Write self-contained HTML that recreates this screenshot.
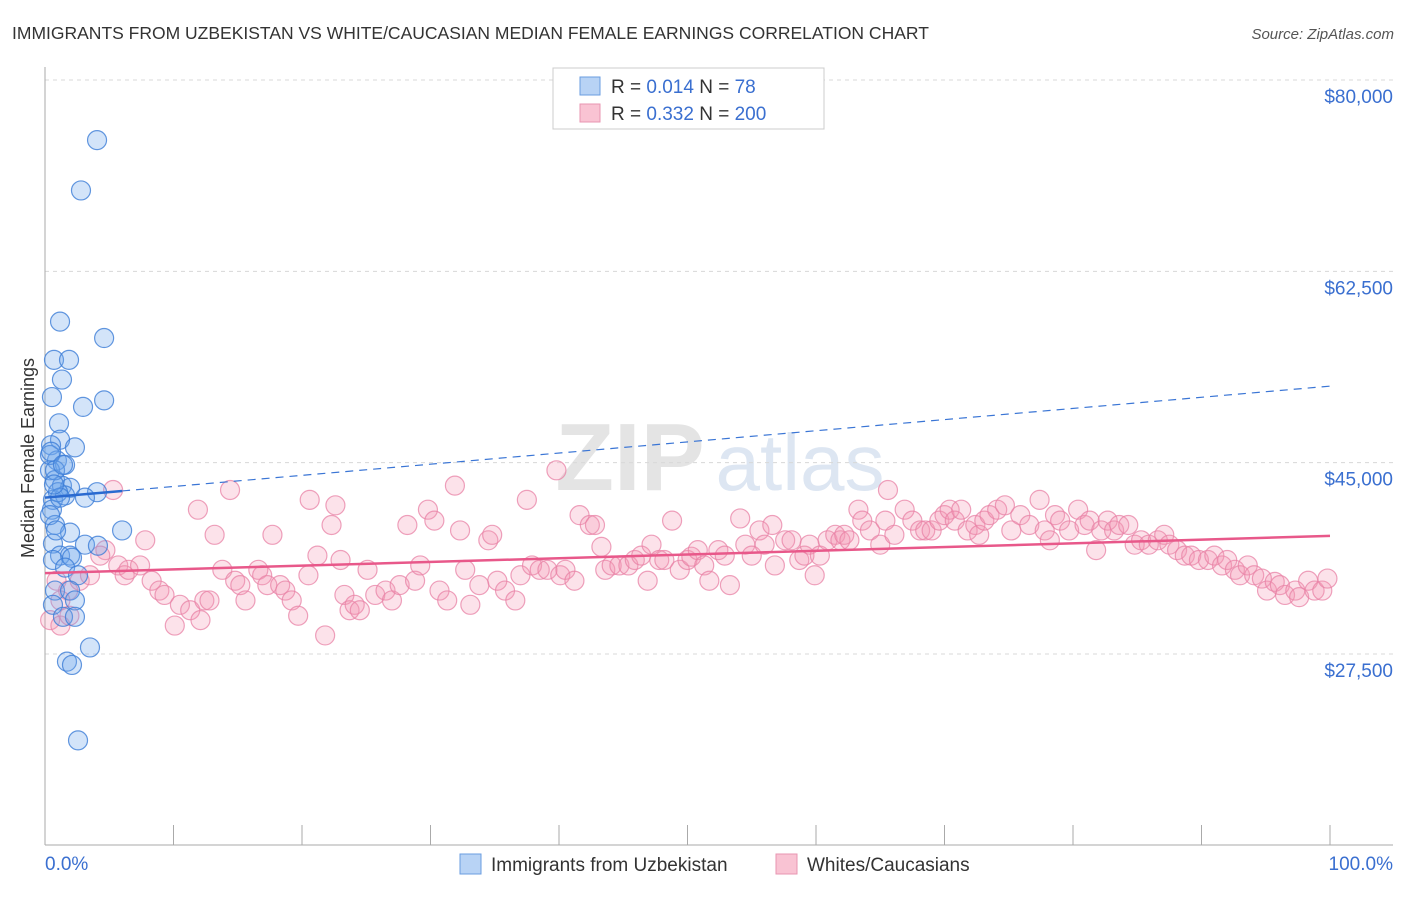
<!DOCTYPE html>
<html><head><meta charset="utf-8"><style>
body{margin:0;background:#fff;font-family:"Liberation Sans",sans-serif;}
svg text{font-family:"Liberation Sans",sans-serif;}
</style></head><body>
<svg id="chart" width="1406" height="892" xmlns="http://www.w3.org/2000/svg">
<text x="12" y="39" font-size="17.5" fill="#333">IMMIGRANTS FROM UZBEKISTAN VS WHITE/CAUCASIAN MEDIAN FEMALE EARNINGS CORRELATION CHART</text>
<text x="1394" y="39" font-size="15" fill="#555" text-anchor="end" font-style="italic">Source: ZipAtlas.com</text>
<g>
<text x="630" y="490" font-size="96" fill="#e4e4e4" font-family="Liberation Serif" text-anchor="middle" font-weight="bold">ZIP</text>
<text x="800" y="490" font-size="80" fill="#dde6f2" text-anchor="middle">atlas</text>
</g>
<g id="grid"></g>
<g id="axes"></g>
<g id="pts"></g>
<g id="trend"></g>
<g>
<rect x="553" y="68" width="271" height="61" fill="#fff" stroke="#ccc"/>
<rect x="580" y="77" width="20" height="18" fill="#b8d3f5" stroke="#6a9de0"/>
<rect x="580" y="104" width="20" height="18" fill="#f9c3d3" stroke="#e896b2"/>
<text x="611" y="93" font-size="19" fill="#333">R = <tspan fill="#3a6fd0">0.014</tspan>   N = <tspan fill="#3a6fd0">  78</tspan></text>
<text x="611" y="120" font-size="19" fill="#333">R = <tspan fill="#3a6fd0">0.332</tspan>   N = <tspan fill="#3a6fd0">200</tspan></text>
</g>
<g>
<rect x="460" y="854" width="21" height="20" fill="#b8d3f5" stroke="#6a9de0"/>
<text x="491" y="871" font-size="19" fill="#333">Immigrants from Uzbekistan</text>
<rect x="776" y="854" width="21" height="20" fill="#f9c3d3" stroke="#e896b2"/>
<text x="807" y="871" font-size="19" fill="#333">Whites/Caucasians</text>
</g>
<text transform="translate(34,458) rotate(-90)" font-size="18" fill="#333" text-anchor="middle">Median Female Earnings</text>
</svg>
<script>
const yTicks=[80000,62500,45000,27500];
const yTickLabels=["$80,000","$62,500","$45,000","$27,500"];
const xTickLabels=["0.0%","100.0%"];
const blueX=[4.05,2.8,1.17,4.6,0.7,1.87,1.32,4.6,2.96,0.54,1.09,1.17,2.33,0.47,0.93,1.56,0.39,0.78,1.32,1.95,4.05,3.11,0.62,1.56,0.54,0.78,6.0,1.95,0.62,3.11,1.17,1.95,4.12,0.62,2.1,1.56,2.57,0.78,1.95,0.62,2.33,1.4,2.33,3.5,1.71,2.1,2.57,0.39,0.78,1.01,0.39,0.86,1.17,0.47,0.7,1.4];
const blueY=[74.5,69.9,57.9,56.4,54.4,54.4,52.6,50.7,50.1,51.0,48.6,47.1,46.4,46.6,45.2,44.8,44.3,43.4,42.9,42.7,42.3,41.8,41.6,42.0,40.7,39.3,38.8,38.6,37.6,37.5,36.5,36.5,37.4,36.1,36.3,35.4,34.7,33.3,33.3,32.0,32.4,30.9,30.9,28.1,26.8,26.5,19.6,45.7,44.3,42.3,40.2,38.8,41.8,46.0,43.0,44.8];
const pinkX=[0.4,1.2,0.9,1.8,2.7,3.5,4.7,5.3,4.3,5.7,6.2,6.5,7.4,7.8,8.3,8.9,9.3,10.1,10.5,11.3,12.1,12.4,11.9,12.8,13.2,13.8,14.4,14.8,15.2,15.6,16.6,16.9,17.3,17.7,18.3,18.7,19.2,19.7,20.6,20.5,21.2,21.8,22.6,22.3,23.0,23.3,23.7,24.1,24.5,25.1,25.7,26.5,27.0,27.6,28.2,28.8,29.2,29.8,30.3,30.7,31.3,31.9,32.3,32.7,33.1,33.8,34.5,34.8,35.2,35.8,36.6,37.0,37.5,37.9,38.5,39.1,39.8,40.1,40.5,41.2,41.6,42.4,42.8,43.3,43.6,44.1,44.7,45.4,45.9,46.4,46.9,47.2,47.8,48.2,48.8,49.4,50.0,50.3,50.8,51.3,51.7,52.4,52.9,53.3,54.1,54.5,55.0,55.6,56.0,56.6,56.8,57.6,58.1,58.7,59.1,59.5,59.9,60.3,60.9,61.5,61.9,62.2,62.6,63.3,63.6,64.2,65.0,65.4,65.6,66.1,66.9,67.5,68.1,68.5,69.0,69.6,70.0,70.4,70.8,71.3,71.8,72.4,72.7,73.1,73.5,74.1,74.7,75.2,75.9,76.6,77.4,77.8,78.2,78.6,79.0,79.7,80.4,80.9,81.3,81.8,82.2,82.7,83.2,83.6,84.3,84.8,85.3,85.9,86.6,87.1,87.5,88.1,88.7,89.2,89.8,90.5,91.0,91.6,92.0,92.6,93.0,93.6,94.1,94.7,95.1,95.7,96.1,96.5,97.3,97.6,98.3,98.8,99.4,99.8,1.2,1.9];
const pinkY=[30.6,30.1,34.2,33.3,34.2,34.7,37.0,42.5,36.5,35.6,34.7,35.2,35.6,37.9,34.2,33.3,32.9,30.1,32.0,31.5,30.6,32.4,40.7,32.4,38.4,35.2,42.5,34.2,33.8,32.4,35.2,34.7,33.8,38.4,33.8,33.3,32.4,31.0,41.6,34.7,36.5,29.2,41.1,39.3,36.1,32.9,31.5,32.0,31.5,35.2,32.9,33.3,32.4,33.8,39.3,34.2,35.6,40.7,39.7,33.3,32.4,42.9,38.8,35.2,32.0,33.8,37.9,38.4,34.2,33.3,32.4,34.7,41.6,35.6,35.2,35.2,44.3,34.7,35.2,34.2,40.2,39.3,39.3,37.3,35.2,35.6,35.6,35.6,36.1,36.5,34.2,37.5,36.1,36.1,39.7,35.2,36.1,36.4,37.0,35.6,34.2,37.0,36.5,33.8,39.9,37.5,36.5,38.8,37.5,39.3,35.6,37.9,37.9,36.1,36.5,37.5,34.7,36.5,37.9,38.4,37.9,38.4,37.9,40.7,39.7,38.8,37.5,39.7,42.5,38.4,40.7,39.7,38.8,38.8,38.8,39.7,40.2,40.7,39.7,40.7,38.8,39.3,38.4,39.7,40.2,40.7,41.1,38.8,40.2,39.3,41.6,38.8,37.9,40.2,39.7,38.8,40.7,39.3,39.7,37.0,38.8,39.7,38.8,39.3,39.3,37.5,37.9,37.5,37.9,38.4,37.5,37.0,36.5,36.5,36.1,36.1,36.5,35.6,36.1,35.2,34.7,35.6,34.7,34.4,33.3,34.1,33.8,32.9,33.3,32.7,34.2,33.3,33.3,34.4,32.4,31.0];
const trendPink=[34.9,38.3];
const trendBlue=[41.8,52.0];
const NS="http://www.w3.org/2000/svg";
const X0=45,X1=1330,YT=80,YB=654;
const xs=v=>X0+(v/100)*(X1-X0);
const ys=k=>YT+(80-k)/(80-27.5)*(YB-YT);
function mk(tag,attrs,parent){const e=document.createElementNS(NS,tag);for(const k in attrs)e.setAttribute(k,attrs[k]);parent.appendChild(e);return e;}
const grid=document.getElementById('grid'),axes=document.getElementById('axes'),pts=document.getElementById('pts'),tr=document.getElementById('trend');
yTicks.forEach((t,i)=>{
 const y=ys(t/1000);
 const l=mk('line',{x1:X0,x2:1393,y1:y,y2:y,stroke:'#d8d8d8','stroke-dasharray':'4,4'},grid);
 
 
 const tx=mk('text',{x:1393,y:y+23,'font-size':19,fill:'#3a6fd0','text-anchor':'end'},axes);
 tx.textContent=yTickLabels[i];
 
 
});
const ax=mk('line',{x1:X0,x2:X0,y1:67,y2:845,stroke:'#aaa'},axes);


const bx=mk('line',{x1:X0,x2:1393,y1:845,y2:845,stroke:'#aaa'},axes);


for(let i=0;i<=10;i++){const x=xs(i*10);const t=mk('line',{x1:x,x2:x,y1:825,y2:845,stroke:'#aaa'},axes);
 
 }
[[0,'start',45],[100,'end',1393]].forEach((d,i)=>{const t=mk('text',{x:d[2],y:870,'font-size':19,fill:'#3a6fd0','text-anchor':d[1]},axes);t.textContent=xTickLabels[i];
 
 });
pinkX.forEach((v,i)=>{const c=mk('circle',{cx:xs(v),cy:ys(pinkY[i]),r:9.5,fill:'rgba(244,150,180,0.28)',stroke:'rgba(232,130,165,0.75)','stroke-width':1.2},pts);
 
 });
blueX.forEach((v,i)=>{const c=mk('circle',{cx:xs(v),cy:ys(blueY[i]),r:9.5,fill:'rgba(110,165,235,0.3)',stroke:'rgba(60,125,215,0.8)','stroke-width':1.2},pts);
 
 });
const pl=mk('line',{x1:xs(0),y1:ys(trendPink[0]),x2:xs(100),y2:ys(trendPink[1]),stroke:'#e8588a','stroke-width':2.5},tr);


const bm=trendBlue[0]+(trendBlue[1]-trendBlue[0])*0.06;
const b1=mk('line',{x1:xs(0),y1:ys(trendBlue[0]),x2:xs(6),y2:ys(bm),stroke:'#2a6ad0','stroke-width':2.5},tr);


const b2=mk('line',{x1:xs(6),y1:ys(bm),x2:xs(100),y2:ys(trendBlue[1]),stroke:'#3a75d5','stroke-width':1.2,'stroke-dasharray':'8,6'},tr);


</script>
</body></html>
